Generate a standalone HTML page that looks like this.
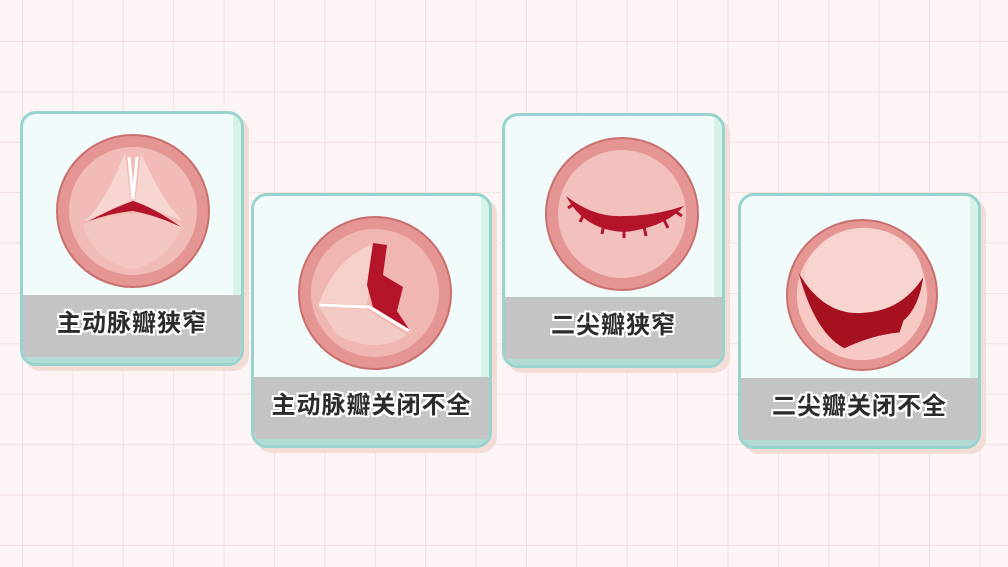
<!DOCTYPE html>
<html><head><meta charset="utf-8"><style>
html,body{margin:0;padding:0}
body{width:1008px;height:567px;position:relative;overflow:hidden;background-color:#fdf5f5;
background-image:linear-gradient(to right,#f4e0e1 1px,transparent 1px),linear-gradient(to bottom,#f4e0e1 1px,transparent 1px);
background-size:50.4px 50.4px;background-position:22px 41px;}
.card{position:absolute;box-sizing:border-box;border:3px solid #98d3cd;border-radius:16px;background:#f2fbfb;overflow:hidden;
box-shadow:5px 5px 0 #f1dcd6;}
.card:before{content:"";position:absolute;right:0;top:0;bottom:0;width:8px;background:#d6f3e6}
.lab{position:absolute;left:0;right:0;bottom:0;height:62px;background:#c4c4c4;border-bottom:6px solid #b0dcd4;
font:bold 24px "Liberation Sans","Noto Sans CJK SC",sans-serif;color:#2b2b2b;text-align:center;line-height:58px;
text-shadow:2px 0 #fff,-2px 0 #fff,0 2px #fff,0 -2px #fff,2px 2px #fff,-2px -2px #fff,2px -2px #fff,-2px 2px #fff;letter-spacing:1px}
svg{position:absolute}
</style></head><body>

<div class="card" style="left:20px;top:111px;width:224px;height:255px">
<svg style="left:32px;top:19px" width="156" height="156" viewBox="0 0 156 156">
<circle cx="78" cy="78" r="76" fill="#e49594" stroke="#c9706f" stroke-width="2"/>
<circle cx="78" cy="78" r="64" fill="#f1bcb8"/>
<path d="M70 20 L76 70 L30 88 Q50 70 70 20Z" fill="#f7d6d2"/>
<path d="M86 20 L80 70 L128 88 Q108 70 86 20Z" fill="#f7d6d2"/>
<path d="M28 92 Q78 70 128 92 Q110 130 78 136 Q40 130 28 92Z" fill="#f2c7c2"/>
<path d="M34 88 Q60 74 78 68 Q98 74 126 94 Q100 82 78 78 Q56 80 34 88Z" fill="#b4142a"/>
<path d="M74 24 L78 66 L82 24" stroke="#fff" stroke-width="3" fill="none"/>
</svg>
<div class="lab">主动脉瓣狭窄</div></div>

<div class="card" style="left:251px;top:193px;width:241px;height:255px">
<svg style="left:43px;top:19px" width="156" height="156" viewBox="0 0 156 156">
<circle cx="78" cy="78" r="76" fill="#e49594" stroke="#c9706f" stroke-width="2"/>
<circle cx="78" cy="78" r="64" fill="#f0b6b2"/>
<path d="M22 88 Q40 40 80 28 L70 90Z" fill="#f6d1cc"/>
<path d="M22 92 L70 94 L110 120 Q80 140 40 120Z" fill="#f3cbc4"/>
<path d="M76 28 L90 30 L86 60 L106 72 L100 96 L112 114 L76 92 L70 70Z" fill="#b4142a"/>
<path d="M22 90 L72 92 L112 116" stroke="#fff" stroke-width="3" fill="none"/>
</svg>
<div class="lab">主动脉瓣关闭不全</div></div>

<div class="card" style="left:502px;top:113px;width:223px;height:255px">
<svg style="left:39px;top:20px" width="156" height="156" viewBox="0 0 156 156">
<circle cx="78" cy="78" r="76" fill="#e49594" stroke="#c9706f" stroke-width="2"/>
<circle cx="78" cy="78" r="64" fill="#f2c1bd"/>
<path d="M22 60 Q50 82 80 80 Q110 80 140 70 Q120 92 80 96 Q40 94 22 60Z" fill="#b4142a"/>
<path d="M30 68 l-6 4 M40 78 l-4 8 M60 88 l-2 10 M80 92 l0 10 M100 90 l2 10 M120 84 l4 8 M132 76 l6 4" stroke="#b4142a" stroke-width="3"/>
</svg>
<div class="lab">二尖瓣狭窄</div></div>

<div class="card" style="left:738px;top:193px;width:243px;height:256px">
<svg style="left:44px;top:22px" width="154" height="154" viewBox="0 0 156 156">
<circle cx="78" cy="78" r="76" fill="#e49594" stroke="#c9706f" stroke-width="2"/>
<circle cx="78" cy="78" r="66" fill="#f6c9c4"/>
<ellipse cx="80" cy="62" rx="60" ry="52" fill="#f7d4d0"/>
<path d="M14 56 Q40 100 80 96 Q118 94 140 60 Q136 90 120 104 L116 116 Q90 118 60 132 Q30 116 14 56Z" fill="#a5111f"/>
</svg>
<div class="lab">二尖瓣关闭不全</div></div>

</body></html>
